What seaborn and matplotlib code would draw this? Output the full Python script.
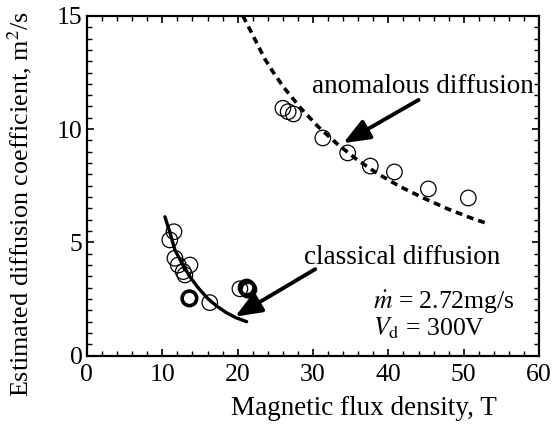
import matplotlib
matplotlib.use("Agg")
import matplotlib.pyplot as plt
import seaborn as sns
from matplotlib.ticker import MultipleLocator

# ---- data ----
anom_B = [26.0, 26.7, 27.4, 31.3, 34.6, 37.6, 40.8, 45.3, 50.6]
anom_D = [10.92, 10.77, 10.67, 9.61, 8.95, 8.37, 8.11, 7.36, 6.96]

class_B = [11.55, 11.0, 11.68, 12.12, 13.67, 12.78, 13.0, 16.3, 20.3]
class_D = [5.47, 5.11, 4.30, 4.00, 4.00, 3.71, 3.56, 2.34, 2.95]

bold_B = [13.6, 21.2, 21.4]
bold_D = [2.53, 3.00, 2.92]

fitA_B = [20.7, 22.1, 23.6, 24.7, 26.1, 28.3, 30.7, 33.2, 35.8, 38.5, 41.5, 44.7, 48.0, 51.1, 52.8]
fitA_D = [15.0, 14.09, 13.10, 12.52, 11.85, 10.95, 10.10, 9.35, 8.66, 8.05, 7.47, 6.95, 6.46, 6.06, 5.87]

fitC_B = [10.35, 11.0, 11.68, 12.5, 13.67, 14.8, 16.1, 17.3, 18.54, 19.8, 21.2]
fitC_D = [6.13, 5.45, 4.66, 4.15, 3.48, 2.98, 2.50, 2.17, 1.89, 1.67, 1.50]

x_ticks = [0, 10, 20, 30, 40, 50, 60]
y_ticks = [0, 5, 10, 15]

sns.set_style("ticks")
plt.rcParams["font.family"] = ["Liberation Serif", "DejaVu Serif"]
plt.rcParams["mathtext.fontset"] = "stix"
plt.rcParams["text.color"] = "black"
plt.rcParams["axes.labelcolor"] = "black"

fig = plt.figure(figsize=(5.57, 4.29), dpi=100)
ax = fig.add_axes([0.156, 0.171, 0.812, 0.792])

sns.lineplot(x=fitA_B, y=fitA_D, ax=ax, color="black", lw=2.6,
             linestyle=(0, (1.9, 1.4)), sort=False)
sns.lineplot(x=fitC_B, y=fitC_D, ax=ax, color="black", lw=2.4, sort=False)

sns.scatterplot(x=anom_B, y=anom_D, ax=ax, marker="o", s=125,
                facecolor="none", edgecolor="black", linewidth=0.9)
sns.scatterplot(x=class_B, y=class_D, ax=ax, marker="o", s=125,
                facecolor="none", edgecolor="black", linewidth=0.9)
sns.scatterplot(x=bold_B, y=bold_D, ax=ax, marker="o", s=110,
                facecolor="none", edgecolor="black", linewidth=2.6)

ax.set_xlim(0, 60)
ax.set_ylim(0, 15)
ax.set_xticks(x_ticks)
ax.set_yticks(y_ticks)
ax.xaxis.set_minor_locator(MultipleLocator(2))
ax.yaxis.set_minor_locator(MultipleLocator(0.5))
ax.tick_params(which="both", direction="in", top=True, right=True,
               labelsize=18.5, colors="black")
ax.tick_params(axis="x", which="major", pad=6)
ax.tick_params(axis="y", which="major", pad=3)
ax.tick_params(which="major", length=5, width=1.2)
ax.tick_params(which="minor", length=3.5, width=1.0)
for sp in ax.spines.values():
    sp.set_linewidth(1.6)
    sp.set_color("black")

ax.set_xlabel("Magnetic flux density, T", fontsize=19.5, va="top")
ax.xaxis.set_label_coords(0.613, -0.119)
ax.set_ylabel("Estimated diffusion coefficient, m$^2$/s", fontsize=18.8)
ax.yaxis.set_label_coords(-0.118, 0.448)

arrow = dict(arrowstyle="-|>,head_length=0.8,head_width=0.32", color="black",
             lw=2.8, mutation_scale=20, shrinkA=0, shrinkB=0)
ax.text(44.6, 11.6, "anomalous diffusion", fontsize=19.5, ha="center", va="baseline")
ax.annotate("", xy=(34.0, 9.38), xytext=(44.0, 11.29), arrowprops=arrow)
ax.text(41.8, 4.05, "classical diffusion", fontsize=19.5, ha="center", va="baseline")
ax.annotate("", xy=(19.65, 1.72), xytext=(30.3, 3.82), arrowprops=arrow)

ax.text(38.0, 2.05, r"$\dot{m}$ = 2.72mg/s", fontsize=18.5, ha="left", va="baseline")
ax.text(38.0, 0.91, r"$V_\mathrm{d}$ = 300V", fontsize=18.5, ha="left", va="baseline")

fig.savefig("out.png", dpi=100)
